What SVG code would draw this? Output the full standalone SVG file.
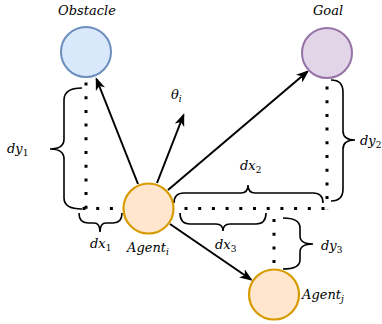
<svg xmlns="http://www.w3.org/2000/svg" width="382" height="324" viewBox="0 0 382 324">
<defs>
<marker id="ah" markerUnits="userSpaceOnUse" markerWidth="13" markerHeight="11" refX="11" refY="5" orient="auto" viewBox="0 0 13 10">
<path d="M0,0 L13,5 L0,10 L3.5,5 z" fill="#000"/>
</marker>
</defs>
<style>
text{font-family:'DejaVu Serif',serif;font-size:13px;fill:#000}
.it{font-style:italic}
.sub{font-size:9px}
.arr{stroke:#000;stroke-width:2;fill:none;marker-end:url(#ah)}
.dot{stroke:#000;stroke-width:3;fill:none;stroke-dasharray:3 10.7}
.br{stroke:#000;stroke-width:1.6;fill:none}
</style>
<rect width="382" height="324" fill="#fff"/>
<g id="guides">
<line class="dot" x1="86" y1="82.5" x2="86" y2="212"/>
<line class="dot" x1="82.5" y1="208.5" x2="122" y2="208.5"/>
<line class="dot" x1="184.5" y1="208.5" x2="330" y2="208.5"/>
<line class="dot" x1="327" y1="86.5" x2="327" y2="210"/>
<line class="dot" x1="274" y1="219" x2="274" y2="266"/>
</g>
<g id="braces">
<path class="br" d="M82,88 Q64,88 64,100 V139 Q64,149 50,149 Q64,149 64,159 V198 Q64,209 82,209"/>
<path class="br" d="M79,213 Q79,223 88,223 H94 Q100,223 100,232 Q100,223 106,223 H113 Q122,223 122,213"/>
<path class="br" d="M180,213 Q180,224 190,224 H216 Q223,224 223,231 Q223,224 230,224 H256 Q266,224 266,213"/>
<path class="br" d="M174,203 Q174,193 184,193 H241 Q248,193 248,185 Q248,193 255,193 H313 Q323,193 323,203"/>
<path class="br" d="M331,80 Q343,80 343,92 V131 Q343,140 355,140 Q343,140 343,149 V189 Q343,201 331,201"/>
<path class="br" d="M283,218 Q300,218 300,228 V236 Q300,244 313,244 Q300,244 300,252 V260 Q300,269 283,269"/>
</g>
<g id="connectors">
<line class="arr" x1="138" y1="184" x2="96.5" y2="79"/>
<line class="arr" x1="157" y1="183" x2="183.5" y2="115"/>
<line class="arr" x1="168" y1="190" x2="307.5" y2="71.5"/>
<line class="arr" x1="170" y1="224" x2="251" y2="279.5"/>
</g>
<g id="obstacle">
<circle cx="86" cy="52" r="25" fill="#dae8fc" stroke="#6c8ebf" stroke-width="2"/>
<text class="it" x="87" y="15" text-anchor="middle">Obstacle</text>
</g>
<g id="goal">
<circle cx="327" cy="53" r="25" fill="#e1d5e7" stroke="#9673a6" stroke-width="2"/>
<text class="it" x="328" y="15" text-anchor="middle">Goal</text>
</g>
<g id="agent-i">
<circle cx="148.5" cy="208.5" r="25" fill="#ffe6cc" stroke="#d79b00" stroke-width="2.2"/>
<text x="127" y="252"><tspan class="it">Agent</tspan><tspan class="it sub" dy="3">i</tspan></text>
</g>
<g id="agent-j">
<circle cx="274" cy="294.5" r="25" fill="#ffe6cc" stroke="#d79b00" stroke-width="2.2"/>
<text x="302" y="299"><tspan class="it">Agent</tspan><tspan class="it sub" dy="3">j</tspan></text>
</g>
<g id="labels">
<text x="171" y="99"><tspan class="it">θ</tspan><tspan class="it sub" dy="3">i</tspan></text>
<text x="7" y="153"><tspan class="it">dy</tspan><tspan class="sub" dy="3">1</tspan></text>
<text x="90" y="248"><tspan class="it">dx</tspan><tspan class="sub" dy="3">1</tspan></text>
<text x="215" y="249"><tspan class="it">dx</tspan><tspan class="sub" dy="3">3</tspan></text>
<text x="240" y="170"><tspan class="it">dx</tspan><tspan class="sub" dy="3">2</tspan></text>
<text x="360" y="145"><tspan class="it">dy</tspan><tspan class="sub" dy="3">2</tspan></text>
<text x="321" y="250"><tspan class="it">dy</tspan><tspan class="sub" dy="3">3</tspan></text>
</g>
</svg>
